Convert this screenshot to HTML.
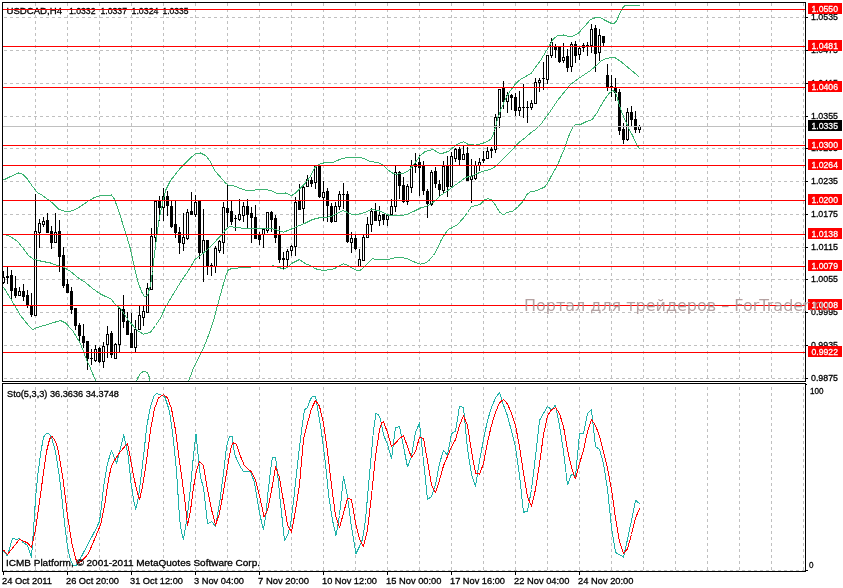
<!DOCTYPE html>
<html lang="ru"><head><meta charset="utf-8"><title>USDCAD,H4</title>
<style>html,body{margin:0;padding:0;background:#fff;overflow:hidden}svg{display:block}text{font-family:"Liberation Sans", sans-serif;font-size:9.7px;fill:#000;stroke:#000;stroke-width:.3px}.w{fill:#fff;stroke:#fff}.wm{font-family:"DejaVu Sans", "Liberation Sans", sans-serif;font-size:16px;fill:#ab9595;fill-opacity:.88;stroke:none}</style></head><body>
<svg width="843" height="588" viewBox="0 0 843 588">
<rect width="843" height="588" fill="#fff"/>
<g shape-rendering="crispEdges" stroke="#c0c0c0" stroke-width="1" stroke-dasharray="3 3" fill="none">
<line x1="4" y1="17.5" x2="805" y2="17.5"/>
<line x1="4" y1="50.5" x2="805" y2="50.5"/>
<line x1="4" y1="83.5" x2="805" y2="83.5"/>
<line x1="4" y1="116.5" x2="805" y2="116.5"/>
<line x1="4" y1="148.5" x2="805" y2="148.5"/>
<line x1="4" y1="181.5" x2="805" y2="181.5"/>
<line x1="4" y1="214.5" x2="805" y2="214.5"/>
<line x1="4" y1="247.5" x2="805" y2="247.5"/>
<line x1="4" y1="279.5" x2="805" y2="279.5"/>
<line x1="4" y1="312.5" x2="805" y2="312.5"/>
<line x1="4" y1="345.5" x2="805" y2="345.5"/>
<line x1="4" y1="378.5" x2="805" y2="378.5"/>
<line x1="35.5" y1="3" x2="35.5" y2="381"/>
<line x1="35.5" y1="387" x2="35.5" y2="571"/>
<line x1="67.5" y1="3" x2="67.5" y2="381"/>
<line x1="67.5" y1="387" x2="67.5" y2="571"/>
<line x1="99.5" y1="3" x2="99.5" y2="381"/>
<line x1="99.5" y1="387" x2="99.5" y2="571"/>
<line x1="131.5" y1="3" x2="131.5" y2="381"/>
<line x1="131.5" y1="387" x2="131.5" y2="571"/>
<line x1="163.5" y1="3" x2="163.5" y2="381"/>
<line x1="163.5" y1="387" x2="163.5" y2="571"/>
<line x1="195.5" y1="3" x2="195.5" y2="381"/>
<line x1="195.5" y1="387" x2="195.5" y2="571"/>
<line x1="227.5" y1="3" x2="227.5" y2="381"/>
<line x1="227.5" y1="387" x2="227.5" y2="571"/>
<line x1="259.5" y1="3" x2="259.5" y2="381"/>
<line x1="259.5" y1="387" x2="259.5" y2="571"/>
<line x1="291.5" y1="3" x2="291.5" y2="381"/>
<line x1="291.5" y1="387" x2="291.5" y2="571"/>
<line x1="323.5" y1="3" x2="323.5" y2="381"/>
<line x1="323.5" y1="387" x2="323.5" y2="571"/>
<line x1="355.5" y1="3" x2="355.5" y2="381"/>
<line x1="355.5" y1="387" x2="355.5" y2="571"/>
<line x1="387.5" y1="3" x2="387.5" y2="381"/>
<line x1="387.5" y1="387" x2="387.5" y2="571"/>
<line x1="419.5" y1="3" x2="419.5" y2="381"/>
<line x1="419.5" y1="387" x2="419.5" y2="571"/>
<line x1="451.5" y1="3" x2="451.5" y2="381"/>
<line x1="451.5" y1="387" x2="451.5" y2="571"/>
<line x1="483.5" y1="3" x2="483.5" y2="381"/>
<line x1="483.5" y1="387" x2="483.5" y2="571"/>
<line x1="515.5" y1="3" x2="515.5" y2="381"/>
<line x1="515.5" y1="387" x2="515.5" y2="571"/>
<line x1="547.5" y1="3" x2="547.5" y2="381"/>
<line x1="547.5" y1="387" x2="547.5" y2="571"/>
<line x1="579.5" y1="3" x2="579.5" y2="381"/>
<line x1="579.5" y1="387" x2="579.5" y2="571"/>
<line x1="611.5" y1="3" x2="611.5" y2="381"/>
<line x1="611.5" y1="387" x2="611.5" y2="571"/>
<line x1="643.5" y1="3" x2="643.5" y2="381"/>
<line x1="643.5" y1="387" x2="643.5" y2="571"/>
<line x1="675.5" y1="3" x2="675.5" y2="381"/>
<line x1="675.5" y1="387" x2="675.5" y2="571"/>
<line x1="707.5" y1="3" x2="707.5" y2="381"/>
<line x1="707.5" y1="387" x2="707.5" y2="571"/>
<line x1="739.5" y1="3" x2="739.5" y2="381"/>
<line x1="739.5" y1="387" x2="739.5" y2="571"/>
<line x1="771.5" y1="3" x2="771.5" y2="381"/>
<line x1="771.5" y1="387" x2="771.5" y2="571"/>
<line x1="803.5" y1="3" x2="803.5" y2="381"/>
<line x1="803.5" y1="387" x2="803.5" y2="571"/>
<line x1="4" y1="570.5" x2="805" y2="570.5"/>
</g>
<text x="6.5" y="14" textLength="55.5" lengthAdjust="spacingAndGlyphs">USDCAD,H4</text>
<text x="69" y="14" textLength="26.5" lengthAdjust="spacingAndGlyphs">1.0332</text>
<text x="100.5" y="14" textLength="26.5" lengthAdjust="spacingAndGlyphs">1.0337</text>
<text x="131.5" y="14" textLength="27" lengthAdjust="spacingAndGlyphs">1.0324</text>
<text x="162.5" y="14" textLength="26" lengthAdjust="spacingAndGlyphs">1.0335</text>
<g shape-rendering="crispEdges">
<rect x="3" y="271" width="1" height="13" fill="#000"/>
<rect x="2" y="277" width="3" height="6" fill="#000"/>
<rect x="3" y="278" width="1" height="4" fill="#fff"/>
<rect x="7" y="267" width="1" height="17" fill="#000"/>
<rect x="6" y="276" width="3" height="2" fill="#000"/>
<rect x="11" y="270" width="1" height="29" fill="#000"/>
<rect x="10" y="275" width="3" height="16" fill="#000"/>
<rect x="15" y="276" width="1" height="22" fill="#000"/>
<rect x="14" y="288" width="3" height="8" fill="#000"/>
<rect x="19" y="287" width="1" height="9" fill="#000"/>
<rect x="18" y="291" width="3" height="5" fill="#000"/>
<rect x="19" y="292" width="1" height="3" fill="#fff"/>
<rect x="23" y="284" width="1" height="17" fill="#000"/>
<rect x="22" y="291" width="3" height="6" fill="#000"/>
<rect x="27" y="290" width="1" height="18" fill="#000"/>
<rect x="26" y="295" width="3" height="11" fill="#000"/>
<rect x="31" y="293" width="1" height="24" fill="#000"/>
<rect x="30" y="305" width="3" height="10" fill="#000"/>
<rect x="35" y="194" width="1" height="122" fill="#000"/>
<rect x="34" y="231" width="3" height="85" fill="#000"/>
<rect x="35" y="232" width="1" height="83" fill="#fff"/>
<rect x="39" y="219" width="1" height="29" fill="#000"/>
<rect x="38" y="223" width="3" height="10" fill="#000"/>
<rect x="39" y="224" width="1" height="8" fill="#fff"/>
<rect x="43" y="217" width="1" height="10" fill="#000"/>
<rect x="42" y="221" width="3" height="4" fill="#000"/>
<rect x="43" y="222" width="1" height="2" fill="#fff"/>
<rect x="47" y="213" width="1" height="20" fill="#000"/>
<rect x="46" y="220" width="3" height="13" fill="#000"/>
<rect x="51" y="226" width="1" height="23" fill="#000"/>
<rect x="50" y="231" width="3" height="12" fill="#000"/>
<rect x="55" y="213" width="1" height="30" fill="#000"/>
<rect x="54" y="232" width="3" height="11" fill="#000"/>
<rect x="55" y="233" width="1" height="9" fill="#fff"/>
<rect x="59" y="220" width="1" height="52" fill="#000"/>
<rect x="58" y="231" width="3" height="26" fill="#000"/>
<rect x="63" y="247" width="1" height="41" fill="#000"/>
<rect x="62" y="255" width="3" height="31" fill="#000"/>
<rect x="67" y="279" width="1" height="14" fill="#000"/>
<rect x="66" y="284" width="3" height="9" fill="#000"/>
<rect x="71" y="287" width="1" height="27" fill="#000"/>
<rect x="70" y="291" width="3" height="19" fill="#000"/>
<rect x="75" y="308" width="1" height="22" fill="#000"/>
<rect x="74" y="308" width="3" height="18" fill="#000"/>
<rect x="79" y="323" width="1" height="20" fill="#000"/>
<rect x="78" y="325" width="3" height="11" fill="#000"/>
<rect x="83" y="324" width="1" height="24" fill="#000"/>
<rect x="82" y="336" width="3" height="7" fill="#000"/>
<rect x="87" y="341" width="1" height="29" fill="#000"/>
<rect x="86" y="341" width="3" height="18" fill="#000"/>
<rect x="91" y="349" width="1" height="16" fill="#000"/>
<rect x="90" y="358" width="3" height="1" fill="#000"/>
<rect x="95" y="345" width="1" height="17" fill="#000"/>
<rect x="94" y="349" width="3" height="12" fill="#000"/>
<rect x="95" y="350" width="1" height="10" fill="#fff"/>
<rect x="99" y="347" width="1" height="16" fill="#000"/>
<rect x="98" y="348" width="3" height="14" fill="#000"/>
<rect x="103" y="342" width="1" height="26" fill="#000"/>
<rect x="102" y="346" width="3" height="16" fill="#000"/>
<rect x="103" y="347" width="1" height="14" fill="#fff"/>
<rect x="107" y="326" width="1" height="32" fill="#000"/>
<rect x="106" y="334" width="3" height="11" fill="#000"/>
<rect x="107" y="335" width="1" height="9" fill="#fff"/>
<rect x="111" y="331" width="1" height="27" fill="#000"/>
<rect x="110" y="333" width="3" height="22" fill="#000"/>
<rect x="115" y="343" width="1" height="16" fill="#000"/>
<rect x="114" y="344" width="3" height="15" fill="#000"/>
<rect x="115" y="345" width="1" height="13" fill="#fff"/>
<rect x="119" y="308" width="1" height="45" fill="#000"/>
<rect x="118" y="308" width="3" height="37" fill="#000"/>
<rect x="119" y="309" width="1" height="35" fill="#fff"/>
<rect x="123" y="295" width="1" height="33" fill="#000"/>
<rect x="122" y="309" width="3" height="13" fill="#000"/>
<rect x="127" y="312" width="1" height="23" fill="#000"/>
<rect x="126" y="321" width="3" height="14" fill="#000"/>
<rect x="131" y="313" width="1" height="35" fill="#000"/>
<rect x="130" y="333" width="3" height="15" fill="#000"/>
<rect x="135" y="320" width="1" height="33" fill="#000"/>
<rect x="134" y="329" width="3" height="19" fill="#000"/>
<rect x="135" y="330" width="1" height="17" fill="#fff"/>
<rect x="139" y="306" width="1" height="24" fill="#000"/>
<rect x="138" y="315" width="3" height="15" fill="#000"/>
<rect x="139" y="316" width="1" height="13" fill="#fff"/>
<rect x="143" y="306" width="1" height="20" fill="#000"/>
<rect x="142" y="311" width="3" height="7" fill="#000"/>
<rect x="143" y="312" width="1" height="5" fill="#fff"/>
<rect x="147" y="283" width="1" height="30" fill="#000"/>
<rect x="146" y="288" width="3" height="25" fill="#000"/>
<rect x="147" y="289" width="1" height="23" fill="#fff"/>
<rect x="151" y="228" width="1" height="62" fill="#000"/>
<rect x="150" y="236" width="3" height="54" fill="#000"/>
<rect x="151" y="237" width="1" height="52" fill="#fff"/>
<rect x="155" y="201" width="1" height="42" fill="#000"/>
<rect x="154" y="201" width="3" height="37" fill="#000"/>
<rect x="155" y="202" width="1" height="35" fill="#fff"/>
<rect x="159" y="196" width="1" height="25" fill="#000"/>
<rect x="158" y="201" width="3" height="7" fill="#000"/>
<rect x="163" y="188" width="1" height="33" fill="#000"/>
<rect x="162" y="196" width="3" height="12" fill="#000"/>
<rect x="163" y="197" width="1" height="10" fill="#fff"/>
<rect x="167" y="191" width="1" height="25" fill="#000"/>
<rect x="166" y="196" width="3" height="10" fill="#000"/>
<rect x="171" y="201" width="1" height="27" fill="#000"/>
<rect x="170" y="206" width="3" height="21" fill="#000"/>
<rect x="175" y="201" width="1" height="37" fill="#000"/>
<rect x="174" y="224" width="3" height="9" fill="#000"/>
<rect x="179" y="227" width="1" height="27" fill="#000"/>
<rect x="178" y="232" width="3" height="11" fill="#000"/>
<rect x="183" y="213" width="1" height="38" fill="#000"/>
<rect x="182" y="237" width="3" height="7" fill="#000"/>
<rect x="183" y="238" width="1" height="5" fill="#fff"/>
<rect x="187" y="209" width="1" height="31" fill="#000"/>
<rect x="186" y="212" width="3" height="27" fill="#000"/>
<rect x="187" y="213" width="1" height="25" fill="#fff"/>
<rect x="191" y="192" width="1" height="23" fill="#000"/>
<rect x="190" y="211" width="3" height="4" fill="#000"/>
<rect x="195" y="195" width="1" height="22" fill="#000"/>
<rect x="194" y="202" width="3" height="13" fill="#000"/>
<rect x="195" y="203" width="1" height="11" fill="#fff"/>
<rect x="199" y="201" width="1" height="58" fill="#000"/>
<rect x="198" y="201" width="3" height="52" fill="#000"/>
<rect x="203" y="209" width="1" height="73" fill="#000"/>
<rect x="202" y="240" width="3" height="13" fill="#000"/>
<rect x="203" y="241" width="1" height="11" fill="#fff"/>
<rect x="207" y="240" width="1" height="35" fill="#000"/>
<rect x="206" y="240" width="3" height="27" fill="#000"/>
<rect x="211" y="263" width="1" height="13" fill="#000"/>
<rect x="210" y="265" width="3" height="2" fill="#000"/>
<rect x="215" y="246" width="1" height="27" fill="#000"/>
<rect x="214" y="248" width="3" height="19" fill="#000"/>
<rect x="215" y="249" width="1" height="17" fill="#fff"/>
<rect x="219" y="240" width="1" height="13" fill="#000"/>
<rect x="218" y="241" width="3" height="10" fill="#000"/>
<rect x="219" y="242" width="1" height="8" fill="#fff"/>
<rect x="223" y="202" width="1" height="52" fill="#000"/>
<rect x="222" y="207" width="3" height="36" fill="#000"/>
<rect x="223" y="208" width="1" height="34" fill="#fff"/>
<rect x="227" y="185" width="1" height="42" fill="#000"/>
<rect x="226" y="208" width="3" height="5" fill="#000"/>
<rect x="231" y="200" width="1" height="25" fill="#000"/>
<rect x="230" y="211" width="3" height="11" fill="#000"/>
<rect x="235" y="215" width="1" height="16" fill="#000"/>
<rect x="234" y="218" width="3" height="1" fill="#000"/>
<rect x="239" y="199" width="1" height="22" fill="#000"/>
<rect x="238" y="214" width="3" height="6" fill="#000"/>
<rect x="239" y="215" width="1" height="4" fill="#fff"/>
<rect x="243" y="202" width="1" height="20" fill="#000"/>
<rect x="242" y="206" width="3" height="10" fill="#000"/>
<rect x="243" y="207" width="1" height="8" fill="#fff"/>
<rect x="247" y="199" width="1" height="29" fill="#000"/>
<rect x="246" y="206" width="3" height="9" fill="#000"/>
<rect x="251" y="207" width="1" height="36" fill="#000"/>
<rect x="250" y="213" width="3" height="5" fill="#000"/>
<rect x="255" y="205" width="1" height="34" fill="#000"/>
<rect x="254" y="217" width="3" height="22" fill="#000"/>
<rect x="259" y="232" width="1" height="13" fill="#000"/>
<rect x="258" y="234" width="3" height="6" fill="#000"/>
<rect x="263" y="228" width="1" height="20" fill="#000"/>
<rect x="262" y="229" width="3" height="6" fill="#000"/>
<rect x="263" y="230" width="1" height="4" fill="#fff"/>
<rect x="267" y="212" width="1" height="21" fill="#000"/>
<rect x="266" y="212" width="3" height="19" fill="#000"/>
<rect x="267" y="213" width="1" height="17" fill="#fff"/>
<rect x="271" y="211" width="1" height="21" fill="#000"/>
<rect x="270" y="212" width="3" height="8" fill="#000"/>
<rect x="275" y="215" width="1" height="28" fill="#000"/>
<rect x="274" y="218" width="3" height="20" fill="#000"/>
<rect x="279" y="226" width="1" height="37" fill="#000"/>
<rect x="278" y="234" width="3" height="26" fill="#000"/>
<rect x="283" y="252" width="1" height="18" fill="#000"/>
<rect x="282" y="258" width="3" height="2" fill="#000"/>
<rect x="287" y="249" width="1" height="19" fill="#000"/>
<rect x="286" y="251" width="3" height="9" fill="#000"/>
<rect x="287" y="252" width="1" height="7" fill="#fff"/>
<rect x="291" y="245" width="1" height="11" fill="#000"/>
<rect x="290" y="246" width="3" height="5" fill="#000"/>
<rect x="291" y="247" width="1" height="3" fill="#fff"/>
<rect x="295" y="197" width="1" height="59" fill="#000"/>
<rect x="294" y="202" width="3" height="45" fill="#000"/>
<rect x="295" y="203" width="1" height="43" fill="#fff"/>
<rect x="299" y="184" width="1" height="26" fill="#000"/>
<rect x="298" y="201" width="3" height="9" fill="#000"/>
<rect x="303" y="184" width="1" height="39" fill="#000"/>
<rect x="302" y="187" width="3" height="22" fill="#000"/>
<rect x="303" y="188" width="1" height="20" fill="#fff"/>
<rect x="307" y="175" width="1" height="12" fill="#000"/>
<rect x="306" y="179" width="3" height="8" fill="#000"/>
<rect x="307" y="180" width="1" height="6" fill="#fff"/>
<rect x="311" y="177" width="1" height="10" fill="#000"/>
<rect x="310" y="180" width="3" height="4" fill="#000"/>
<rect x="315" y="166" width="1" height="23" fill="#000"/>
<rect x="314" y="166" width="3" height="17" fill="#000"/>
<rect x="315" y="167" width="1" height="15" fill="#fff"/>
<rect x="319" y="165" width="1" height="33" fill="#000"/>
<rect x="318" y="165" width="3" height="32" fill="#000"/>
<rect x="323" y="181" width="1" height="40" fill="#000"/>
<rect x="322" y="192" width="3" height="6" fill="#000"/>
<rect x="323" y="193" width="1" height="4" fill="#fff"/>
<rect x="327" y="188" width="1" height="34" fill="#000"/>
<rect x="326" y="191" width="3" height="15" fill="#000"/>
<rect x="331" y="203" width="1" height="20" fill="#000"/>
<rect x="330" y="206" width="3" height="16" fill="#000"/>
<rect x="335" y="202" width="1" height="20" fill="#000"/>
<rect x="334" y="206" width="3" height="16" fill="#000"/>
<rect x="335" y="207" width="1" height="14" fill="#fff"/>
<rect x="339" y="191" width="1" height="19" fill="#000"/>
<rect x="338" y="194" width="3" height="13" fill="#000"/>
<rect x="339" y="195" width="1" height="11" fill="#fff"/>
<rect x="343" y="183" width="1" height="26" fill="#000"/>
<rect x="342" y="194" width="3" height="1" fill="#000"/>
<rect x="347" y="191" width="1" height="52" fill="#000"/>
<rect x="346" y="194" width="3" height="48" fill="#000"/>
<rect x="351" y="232" width="1" height="21" fill="#000"/>
<rect x="350" y="238" width="3" height="5" fill="#000"/>
<rect x="351" y="239" width="1" height="3" fill="#fff"/>
<rect x="355" y="235" width="1" height="15" fill="#000"/>
<rect x="354" y="238" width="3" height="11" fill="#000"/>
<rect x="359" y="249" width="1" height="18" fill="#000"/>
<rect x="358" y="259" width="3" height="8" fill="#000"/>
<rect x="359" y="260" width="1" height="6" fill="#fff"/>
<rect x="363" y="235" width="1" height="26" fill="#000"/>
<rect x="362" y="237" width="3" height="24" fill="#000"/>
<rect x="363" y="238" width="1" height="22" fill="#fff"/>
<rect x="367" y="217" width="1" height="21" fill="#000"/>
<rect x="366" y="224" width="3" height="14" fill="#000"/>
<rect x="367" y="225" width="1" height="12" fill="#fff"/>
<rect x="371" y="208" width="1" height="24" fill="#000"/>
<rect x="370" y="211" width="3" height="14" fill="#000"/>
<rect x="371" y="212" width="1" height="12" fill="#fff"/>
<rect x="375" y="203" width="1" height="18" fill="#000"/>
<rect x="374" y="211" width="3" height="10" fill="#000"/>
<rect x="379" y="206" width="1" height="20" fill="#000"/>
<rect x="378" y="215" width="3" height="6" fill="#000"/>
<rect x="379" y="216" width="1" height="4" fill="#fff"/>
<rect x="383" y="214" width="1" height="11" fill="#000"/>
<rect x="382" y="214" width="3" height="6" fill="#000"/>
<rect x="387" y="214" width="1" height="12" fill="#000"/>
<rect x="386" y="215" width="3" height="5" fill="#000"/>
<rect x="387" y="216" width="1" height="3" fill="#fff"/>
<rect x="391" y="199" width="1" height="16" fill="#000"/>
<rect x="390" y="206" width="3" height="9" fill="#000"/>
<rect x="391" y="207" width="1" height="7" fill="#fff"/>
<rect x="395" y="166" width="1" height="46" fill="#000"/>
<rect x="394" y="172" width="3" height="35" fill="#000"/>
<rect x="395" y="173" width="1" height="33" fill="#fff"/>
<rect x="399" y="171" width="1" height="28" fill="#000"/>
<rect x="398" y="172" width="3" height="14" fill="#000"/>
<rect x="403" y="177" width="1" height="26" fill="#000"/>
<rect x="402" y="185" width="3" height="17" fill="#000"/>
<rect x="407" y="184" width="1" height="21" fill="#000"/>
<rect x="406" y="186" width="3" height="16" fill="#000"/>
<rect x="407" y="187" width="1" height="14" fill="#fff"/>
<rect x="411" y="160" width="1" height="33" fill="#000"/>
<rect x="410" y="166" width="3" height="22" fill="#000"/>
<rect x="411" y="167" width="1" height="20" fill="#fff"/>
<rect x="415" y="153" width="1" height="20" fill="#000"/>
<rect x="414" y="164" width="3" height="3" fill="#000"/>
<rect x="415" y="165" width="1" height="1" fill="#fff"/>
<rect x="419" y="155" width="1" height="41" fill="#000"/>
<rect x="418" y="162" width="3" height="6" fill="#000"/>
<rect x="423" y="161" width="1" height="34" fill="#000"/>
<rect x="422" y="165" width="3" height="26" fill="#000"/>
<rect x="427" y="189" width="1" height="29" fill="#000"/>
<rect x="426" y="191" width="3" height="13" fill="#000"/>
<rect x="431" y="170" width="1" height="36" fill="#000"/>
<rect x="430" y="172" width="3" height="33" fill="#000"/>
<rect x="431" y="173" width="1" height="31" fill="#fff"/>
<rect x="435" y="167" width="1" height="21" fill="#000"/>
<rect x="434" y="171" width="3" height="13" fill="#000"/>
<rect x="439" y="180" width="1" height="17" fill="#000"/>
<rect x="438" y="184" width="3" height="6" fill="#000"/>
<rect x="443" y="161" width="1" height="32" fill="#000"/>
<rect x="442" y="166" width="3" height="25" fill="#000"/>
<rect x="443" y="167" width="1" height="23" fill="#fff"/>
<rect x="447" y="156" width="1" height="41" fill="#000"/>
<rect x="446" y="165" width="3" height="22" fill="#000"/>
<rect x="451" y="152" width="1" height="36" fill="#000"/>
<rect x="450" y="156" width="3" height="31" fill="#000"/>
<rect x="451" y="157" width="1" height="29" fill="#fff"/>
<rect x="455" y="148" width="1" height="14" fill="#000"/>
<rect x="454" y="149" width="3" height="10" fill="#000"/>
<rect x="455" y="150" width="1" height="8" fill="#fff"/>
<rect x="459" y="147" width="1" height="19" fill="#000"/>
<rect x="458" y="149" width="3" height="11" fill="#000"/>
<rect x="463" y="146" width="1" height="14" fill="#000"/>
<rect x="462" y="154" width="3" height="6" fill="#000"/>
<rect x="463" y="155" width="1" height="4" fill="#fff"/>
<rect x="467" y="147" width="1" height="34" fill="#000"/>
<rect x="466" y="153" width="3" height="28" fill="#000"/>
<rect x="471" y="159" width="1" height="44" fill="#000"/>
<rect x="470" y="176" width="3" height="4" fill="#000"/>
<rect x="471" y="177" width="1" height="2" fill="#fff"/>
<rect x="475" y="161" width="1" height="19" fill="#000"/>
<rect x="474" y="165" width="3" height="14" fill="#000"/>
<rect x="475" y="166" width="1" height="12" fill="#fff"/>
<rect x="479" y="158" width="1" height="13" fill="#000"/>
<rect x="478" y="162" width="3" height="4" fill="#000"/>
<rect x="479" y="163" width="1" height="2" fill="#fff"/>
<rect x="483" y="151" width="1" height="12" fill="#000"/>
<rect x="482" y="159" width="3" height="2" fill="#000"/>
<rect x="487" y="147" width="1" height="12" fill="#000"/>
<rect x="486" y="151" width="3" height="8" fill="#000"/>
<rect x="487" y="152" width="1" height="6" fill="#fff"/>
<rect x="491" y="147" width="1" height="11" fill="#000"/>
<rect x="490" y="149" width="3" height="2" fill="#000"/>
<rect x="495" y="114" width="1" height="39" fill="#000"/>
<rect x="494" y="117" width="3" height="33" fill="#000"/>
<rect x="495" y="118" width="1" height="31" fill="#fff"/>
<rect x="499" y="89" width="1" height="39" fill="#000"/>
<rect x="498" y="89" width="3" height="29" fill="#000"/>
<rect x="499" y="90" width="1" height="27" fill="#fff"/>
<rect x="503" y="81" width="1" height="28" fill="#000"/>
<rect x="502" y="88" width="3" height="14" fill="#000"/>
<rect x="507" y="92" width="1" height="21" fill="#000"/>
<rect x="506" y="95" width="3" height="7" fill="#000"/>
<rect x="507" y="96" width="1" height="5" fill="#fff"/>
<rect x="511" y="94" width="1" height="16" fill="#000"/>
<rect x="510" y="95" width="3" height="3" fill="#000"/>
<rect x="515" y="93" width="1" height="23" fill="#000"/>
<rect x="514" y="97" width="3" height="14" fill="#000"/>
<rect x="519" y="91" width="1" height="25" fill="#000"/>
<rect x="518" y="107" width="3" height="4" fill="#000"/>
<rect x="519" y="108" width="1" height="2" fill="#fff"/>
<rect x="523" y="84" width="1" height="34" fill="#000"/>
<rect x="522" y="107" width="3" height="1" fill="#000"/>
<rect x="527" y="101" width="1" height="22" fill="#000"/>
<rect x="526" y="107" width="3" height="1" fill="#000"/>
<rect x="531" y="100" width="1" height="10" fill="#000"/>
<rect x="530" y="103" width="3" height="5" fill="#000"/>
<rect x="531" y="104" width="1" height="3" fill="#fff"/>
<rect x="535" y="78" width="1" height="26" fill="#000"/>
<rect x="534" y="82" width="3" height="22" fill="#000"/>
<rect x="535" y="83" width="1" height="20" fill="#fff"/>
<rect x="539" y="78" width="1" height="14" fill="#000"/>
<rect x="538" y="80" width="3" height="3" fill="#000"/>
<rect x="539" y="81" width="1" height="1" fill="#fff"/>
<rect x="543" y="62" width="1" height="28" fill="#000"/>
<rect x="542" y="78" width="3" height="1" fill="#000"/>
<rect x="547" y="55" width="1" height="29" fill="#000"/>
<rect x="546" y="55" width="3" height="25" fill="#000"/>
<rect x="547" y="56" width="1" height="23" fill="#fff"/>
<rect x="551" y="38" width="1" height="20" fill="#000"/>
<rect x="550" y="42" width="3" height="14" fill="#000"/>
<rect x="551" y="43" width="1" height="12" fill="#fff"/>
<rect x="555" y="44" width="1" height="14" fill="#000"/>
<rect x="554" y="47" width="3" height="3" fill="#000"/>
<rect x="559" y="47" width="1" height="16" fill="#000"/>
<rect x="558" y="47" width="3" height="15" fill="#000"/>
<rect x="563" y="43" width="1" height="20" fill="#000"/>
<rect x="562" y="57" width="3" height="4" fill="#000"/>
<rect x="563" y="58" width="1" height="2" fill="#fff"/>
<rect x="567" y="49" width="1" height="23" fill="#000"/>
<rect x="566" y="56" width="3" height="12" fill="#000"/>
<rect x="571" y="42" width="1" height="30" fill="#000"/>
<rect x="570" y="44" width="3" height="23" fill="#000"/>
<rect x="571" y="45" width="1" height="21" fill="#fff"/>
<rect x="575" y="41" width="1" height="22" fill="#000"/>
<rect x="574" y="44" width="3" height="12" fill="#000"/>
<rect x="579" y="47" width="1" height="13" fill="#000"/>
<rect x="578" y="48" width="3" height="7" fill="#000"/>
<rect x="579" y="49" width="1" height="5" fill="#fff"/>
<rect x="583" y="43" width="1" height="9" fill="#000"/>
<rect x="582" y="45" width="3" height="3" fill="#000"/>
<rect x="587" y="42" width="1" height="14" fill="#000"/>
<rect x="586" y="45" width="3" height="1" fill="#000"/>
<rect x="591" y="24" width="1" height="29" fill="#000"/>
<rect x="590" y="29" width="3" height="17" fill="#000"/>
<rect x="591" y="30" width="1" height="15" fill="#fff"/>
<rect x="595" y="25" width="1" height="47" fill="#000"/>
<rect x="594" y="28" width="3" height="26" fill="#000"/>
<rect x="599" y="29" width="1" height="32" fill="#000"/>
<rect x="598" y="35" width="3" height="18" fill="#000"/>
<rect x="599" y="36" width="1" height="16" fill="#fff"/>
<rect x="603" y="36" width="1" height="10" fill="#000"/>
<rect x="602" y="36" width="3" height="7" fill="#000"/>
<rect x="607" y="64" width="1" height="27" fill="#000"/>
<rect x="606" y="75" width="3" height="13" fill="#000"/>
<rect x="611" y="75" width="1" height="22" fill="#000"/>
<rect x="610" y="86" width="3" height="2" fill="#000"/>
<rect x="615" y="78" width="1" height="23" fill="#000"/>
<rect x="614" y="88" width="3" height="5" fill="#000"/>
<rect x="619" y="89" width="1" height="46" fill="#000"/>
<rect x="618" y="92" width="3" height="39" fill="#000"/>
<rect x="623" y="123" width="1" height="21" fill="#000"/>
<rect x="622" y="129" width="3" height="11" fill="#000"/>
<rect x="627" y="108" width="1" height="33" fill="#000"/>
<rect x="626" y="112" width="3" height="28" fill="#000"/>
<rect x="627" y="113" width="1" height="26" fill="#fff"/>
<rect x="631" y="106" width="1" height="21" fill="#000"/>
<rect x="630" y="112" width="3" height="8" fill="#000"/>
<rect x="635" y="111" width="1" height="22" fill="#000"/>
<rect x="634" y="119" width="3" height="11" fill="#000"/>
<rect x="639" y="125" width="1" height="8" fill="#000"/>
<rect x="638" y="126" width="3" height="4" fill="#000"/>
<rect x="639" y="127" width="1" height="2" fill="#fff"/>
</g>
<defs><clipPath id="c1"><rect x="3" y="3" width="802" height="378"/></clipPath><clipPath id="c2"><rect x="3" y="384" width="802" height="187"/></clipPath></defs>
<g clip-path="url(#c1)" shape-rendering="crispEdges">
<polyline points="3.5,180.0 10.5,176.5 18.5,173.0 22.5,174.2 27.5,179.2 32.5,186.5 37.5,192.5 42.5,195.5 47.5,199.2 52.5,203.0 58.5,209.2 63.5,211.0 68.5,211.5 73.5,210.5 80.5,206.5 87.5,201.5 93.5,198.0 100.5,195.5 111.5,195.0 114.5,199.2 118.5,210.5 122.5,223.0 126.5,235.5 130.5,249.2 133.5,263.0 137.5,280.5 141.5,291.5 144.5,296.8 147.5,295.5 150.5,285.5 152.5,271.5 155.5,245.5 158.5,223.0 161.5,208.0 165.5,190.5 170.5,180.5 175.5,174.2 180.5,168.0 185.5,163.0 190.5,158.0 195.5,153.5 200.5,153.0 205.5,155.5 210.5,161.5 214.5,170.5 220.5,177.2 225.5,183.0 228.5,185.2 235.5,186.3 240.5,188.5 247.5,190.8 255.5,190.0 262.5,189.5 270.5,190.2 275.5,193.0 280.5,193.5 285.5,193.0 291.5,195.8 295.5,193.0 300.5,188.0 305.5,183.0 310.5,176.3 314.5,168.0 318.5,164.5 323.5,163.0 332.5,162.5 340.5,159.2 346.5,157.5 360.5,157.5 366.5,159.5 370.5,161.8 376.5,162.2 382.5,164.5 387.5,169.5 392.5,173.0 395.5,174.2 403.5,173.5 408.5,170.5 415.5,162.2 420.5,155.5 425.5,151.3 433.5,149.5 438.5,153.0 443.5,153.0 448.5,151.3 453.5,147.2 458.5,143.5 463.5,141.8 468.5,144.5 475.5,145.2 483.5,143.0 487.5,141.3 491.5,138.8 494.5,130.5 497.5,118.8 500.5,110.5 505.5,98.8 510.5,90.5 515.5,83.8 520.5,79.3 527.5,75.5 531.5,73.0 535.5,67.2 540.5,60.5 545.5,52.2 550.5,43.8 553.5,38.8 557.5,35.8 563.5,35.0 568.5,36.3 572.5,36.3 578.5,33.0 585.5,25.5 590.5,19.5 594.5,18.0 600.5,17.7 605.5,20.5 610.5,23.0 613.5,23.8 616.5,21.3 619.5,13.8 622.5,8.0 624.5,5.8 639.5,5.8" fill="none" stroke="#3cb371" stroke-width="1" stroke-linejoin="round"/>
<polyline points="3.5,234.0 10.5,236.5 17.5,241.5 22.5,247.5 28.5,255.5 33.5,259.2 40.5,261.0 50.5,263.0 57.5,265.5 63.5,267.2 70.5,271.5 78.5,278.0 85.5,282.5 92.5,288.5 100.5,294.0 105.5,296.5 110.5,298.5 115.5,304.5 120.5,308.5 128.5,320.5 137.2,330.5 143.5,334.2 150.5,332.2 155.5,325.5 160.5,318.0 165.5,307.2 172.5,295.5 180.5,282.2 188.5,270.5 195.5,258.8 200.5,255.5 205.5,251.3 215.5,241.3 222.5,233.8 226.5,228.8 229.5,226.8 235.5,227.2 243.5,228.3 255.5,228.8 262.5,228.3 268.5,228.0 275.5,229.5 283.5,232.2 290.5,229.5 297.5,226.3 305.5,223.0 312.5,219.5 320.5,217.5 330.5,216.8 336.5,213.8 342.5,210.8 345.5,211.3 349.5,213.8 355.5,214.5 360.5,213.8 365.5,212.2 371.5,209.5 378.5,210.5 385.5,213.8 390.5,215.8 400.5,215.8 408.5,213.8 415.5,210.5 420.5,208.0 428.5,205.5 433.5,202.2 440.5,195.5 447.5,190.8 453.5,186.3 460.5,181.3 465.5,177.5 472.5,175.8 478.5,173.0 485.5,170.5 490.5,169.5 495.5,166.3 500.5,161.3 507.5,154.5 515.5,146.2 520.5,141.2 525.5,137.5 530.5,133.0 535.5,129.5 540.5,124.8 545.5,117.8 550.5,111.0 557.5,100.5 565.5,90.5 570.5,84.5 577.5,79.2 585.5,73.8 590.5,70.5 595.5,66.3 600.5,61.3 605.5,58.8 610.5,57.7 615.5,58.0 620.5,61.3 625.5,65.5 630.5,69.5 635.5,73.8 639.5,77.2" fill="none" stroke="#3cb371" stroke-width="1" stroke-linejoin="round"/>
<polyline points="3.5,287.2 10.5,298.5 20.5,315.5 28.5,325.5 32.5,329.5 38.5,327.2 50.5,323.5 60.5,320.5 65.5,323.0 72.5,330.5 80.5,343.5 85.5,357.2 90.5,368.5 96.0,381.5" fill="none" stroke="#3cb371" stroke-width="1" stroke-linejoin="round"/>
<polyline points="136.5,381.5 138.0,377.5 140.0,374.0 142.5,372.0 145.5,371.5 147.5,373.0 149.0,376.5 150.0,381.5" fill="none" stroke="#3cb371" stroke-width="1" stroke-linejoin="round"/>
<polyline points="188.5,381.5 193.8,367.2 198.8,357.2 203.8,347.2 207.2,338.8 210.5,329.5 213.5,320.5 217.5,305.5 222.5,287.2 226.5,273.8 228.5,269.5 232.5,268.5 240.5,267.8 248.5,267.1 260.5,266.7 273.5,265.9 280.5,268.0 283.5,269.2 287.5,267.2 292.5,263.0 299.5,259.5 305.5,263.8 310.5,265.5 315.5,268.8 323.5,270.5 331.5,269.5 335.5,268.0 343.5,263.8 346.5,264.5 350.5,267.5 357.5,270.5 360.5,270.2 365.5,265.5 372.5,258.8 378.5,259.5 388.5,259.5 395.5,257.5 405.5,258.1 410.5,260.2 415.5,262.5 420.5,264.1 424.5,263.5 428.5,260.9 433.5,255.5 437.5,248.0 441.5,239.5 445.5,233.0 448.5,229.4 452.5,227.5 457.5,224.5 462.5,219.1 467.5,212.5 471.5,206.5 475.5,205.8 480.5,204.1 484.5,199.8 488.5,198.7 491.5,199.8 495.5,205.1 499.5,212.2 503.5,214.8 507.5,212.2 512.5,211.5 517.5,207.3 522.5,201.9 527.5,193.8 530.5,191.9 535.5,191.0 540.5,188.9 544.5,187.2 547.5,183.4 550.5,177.5 553.5,171.9 557.5,165.5 560.5,157.5 564.5,149.1 567.5,139.1 570.5,131.9 573.5,126.2 575.5,124.8 580.5,124.5 585.5,122.0 590.5,120.2 592.5,119.4 595.5,114.8 597.5,112.2 601.5,104.5 605.5,98.0 609.5,93.0 612.5,90.5 615.5,92.2 617.5,98.8 620.5,108.8 624.5,118.8 628.5,128.0 632.5,135.5 636.5,143.8 639.5,149.0" fill="none" stroke="#3cb371" stroke-width="1" stroke-linejoin="round"/>
</g>
<g shape-rendering="crispEdges">
<rect x="3" y="126" width="804" height="1" fill="#c0c0c0"/>
<rect x="3" y="9" width="802" height="1" fill="#f00"/>
<rect x="3" y="46" width="802" height="1" fill="#f00"/>
<rect x="3" y="87" width="802" height="1" fill="#f00"/>
<rect x="3" y="145" width="802" height="1" fill="#f00"/>
<rect x="3" y="165" width="802" height="1" fill="#f00"/>
<rect x="3" y="200" width="802" height="1" fill="#f00"/>
<rect x="3" y="234" width="802" height="1" fill="#f00"/>
<rect x="3" y="266" width="802" height="1" fill="#f00"/>
<rect x="3" y="305" width="802" height="1" fill="#f00"/>
<rect x="3" y="352" width="802" height="1" fill="#f00"/>
<rect x="2" y="2" width="804" height="1" fill="#000"/>
<rect x="2" y="381" width="804" height="1" fill="#000"/>
<rect x="2" y="2" width="1" height="380" fill="#000"/>
<rect x="805" y="2" width="1" height="380" fill="#000"/>
<rect x="2" y="383" width="804" height="1" fill="#000"/>
<rect x="2" y="571" width="804" height="1" fill="#000"/>
<rect x="2" y="383" width="1" height="189" fill="#000"/>
<rect x="805" y="383" width="1" height="189" fill="#000"/>
<rect x="806" y="17" width="2" height="1" fill="#000"/>
<rect x="806" y="50" width="2" height="1" fill="#000"/>
<rect x="806" y="83" width="2" height="1" fill="#000"/>
<rect x="806" y="116" width="2" height="1" fill="#000"/>
<rect x="806" y="148" width="2" height="1" fill="#000"/>
<rect x="806" y="181" width="2" height="1" fill="#000"/>
<rect x="806" y="214" width="2" height="1" fill="#000"/>
<rect x="806" y="247" width="2" height="1" fill="#000"/>
<rect x="806" y="279" width="2" height="1" fill="#000"/>
<rect x="806" y="312" width="2" height="1" fill="#000"/>
<rect x="806" y="345" width="2" height="1" fill="#000"/>
<rect x="806" y="378" width="2" height="1" fill="#000"/>
<rect x="806" y="384" width="1" height="1" fill="#000"/>
<rect x="806" y="570" width="2" height="1" fill="#000"/>
<rect x="3" y="572" width="1" height="3" fill="#000"/>
<rect x="67" y="572" width="1" height="3" fill="#000"/>
<rect x="131" y="572" width="1" height="3" fill="#000"/>
<rect x="195" y="572" width="1" height="3" fill="#000"/>
<rect x="259" y="572" width="1" height="3" fill="#000"/>
<rect x="323" y="572" width="1" height="3" fill="#000"/>
<rect x="387" y="572" width="1" height="3" fill="#000"/>
<rect x="451" y="572" width="1" height="3" fill="#000"/>
<rect x="515" y="572" width="1" height="3" fill="#000"/>
<rect x="579" y="572" width="1" height="3" fill="#000"/>
</g>
<text x="811" y="20" textLength="27" lengthAdjust="spacingAndGlyphs">1.0535</text>
<text x="811" y="53" textLength="27" lengthAdjust="spacingAndGlyphs">1.0475</text>
<text x="811" y="86" textLength="27" lengthAdjust="spacingAndGlyphs">1.0415</text>
<text x="811" y="119" textLength="27" lengthAdjust="spacingAndGlyphs">1.0355</text>
<text x="811" y="151" textLength="27" lengthAdjust="spacingAndGlyphs">1.0295</text>
<text x="811" y="184" textLength="27" lengthAdjust="spacingAndGlyphs">1.0235</text>
<text x="811" y="217" textLength="27" lengthAdjust="spacingAndGlyphs">1.0175</text>
<text x="811" y="250" textLength="27" lengthAdjust="spacingAndGlyphs">1.0115</text>
<text x="811" y="282" textLength="27" lengthAdjust="spacingAndGlyphs">1.0055</text>
<text x="811" y="315" textLength="27" lengthAdjust="spacingAndGlyphs">0.9995</text>
<text x="811" y="348" textLength="27" lengthAdjust="spacingAndGlyphs">0.9935</text>
<text x="811" y="381" textLength="27" lengthAdjust="spacingAndGlyphs">0.9875</text>
<text x="810" y="394" textLength="13.5" lengthAdjust="spacingAndGlyphs">100</text>
<text x="809" y="568" textLength="4.5" lengthAdjust="spacingAndGlyphs">0</text>
<g shape-rendering="crispEdges">
<rect x="808" y="3" width="34" height="11" fill="#f00"/>
<rect x="808" y="40" width="34" height="11" fill="#f00"/>
<rect x="808" y="81" width="34" height="11" fill="#f00"/>
<rect x="808" y="139" width="34" height="11" fill="#f00"/>
<rect x="808" y="159" width="34" height="11" fill="#f00"/>
<rect x="808" y="194" width="34" height="11" fill="#f00"/>
<rect x="808" y="228" width="34" height="11" fill="#f00"/>
<rect x="808" y="260" width="34" height="11" fill="#f00"/>
<rect x="808" y="299" width="34" height="11" fill="#f00"/>
<rect x="808" y="346" width="34" height="11" fill="#f00"/>
<rect x="808" y="120" width="34" height="11" fill="#000"/>
</g>
<text x="811.5" y="12" textLength="26.5" lengthAdjust="spacingAndGlyphs" class="w">1.0550</text>
<text x="811.5" y="49" textLength="26.5" lengthAdjust="spacingAndGlyphs" class="w">1.0481</text>
<text x="811.5" y="90" textLength="26.5" lengthAdjust="spacingAndGlyphs" class="w">1.0406</text>
<text x="811.5" y="148" textLength="26.5" lengthAdjust="spacingAndGlyphs" class="w">1.0300</text>
<text x="811.5" y="168" textLength="26.5" lengthAdjust="spacingAndGlyphs" class="w">1.0264</text>
<text x="811.5" y="203" textLength="26.5" lengthAdjust="spacingAndGlyphs" class="w">1.0200</text>
<text x="811.5" y="237" textLength="26.5" lengthAdjust="spacingAndGlyphs" class="w">1.0138</text>
<text x="811.5" y="269" textLength="26.5" lengthAdjust="spacingAndGlyphs" class="w">1.0079</text>
<text x="811.5" y="308" textLength="26.5" lengthAdjust="spacingAndGlyphs" class="w">1.0008</text>
<text x="811.5" y="355" textLength="26.5" lengthAdjust="spacingAndGlyphs" class="w">0.9922</text>
<text x="811.5" y="129" textLength="26.5" lengthAdjust="spacingAndGlyphs" class="w">1.0335</text>
<g clip-path="url(#c2)" shape-rendering="crispEdges">
<polyline points="3.5,551.2 7.5,555.9 12.5,538.1 16.5,539.8 19.5,538.1 23.5,542.9 27.5,545.2 31.5,557.1 33.5,529.8 35.5,499.0 37.5,477.5 40.5,453.9 43.5,437.3 46.5,433.2 48.5,433.2 51.5,437.3 55.5,451.5 59.5,477.5 61.5,494.2 64.5,522.7 67.5,546.5 70.5,560.5 73.5,565.5 76.5,565.5 80.5,558.3 85.5,548.8 90.5,539.3 95.5,529.8 99.5,521.5 101.5,506.1 103.5,487.3 107.5,463.5 111.5,450.4 116.5,463.5 123.8,434.9 127.9,453.9 131.0,482.5 133.8,501.5 135.8,509.5 138.5,496.5 141.0,477.5 143.5,456.3 146.9,425.4 150.5,406.3 154.1,395.5 156.5,393.7 160.0,394.5 164.8,396.8 169.5,411.1 173.1,437.3 176.5,470.5 179.5,518.0 181.5,532.2 183.5,539.3 186.5,521.5 188.5,506.3 191.0,482.5 193.4,456.3 196.0,433.7 198.5,458.7 200.5,477.7 203.5,487.3 207.5,523.9 211.5,521.5 215.5,526.3 219.5,503.5 223.5,473.0 226.5,446.8 229.5,436.1 232.0,436.1 234.5,453.9 238.5,463.5 243.5,471.8 250.5,471.8 254.5,482.5 259.5,513.2 263.5,529.8 266.5,510.5 267.5,496.8 270.5,470.5 272.5,457.0 275.5,457.0 277.5,473.0 280.5,503.5 284.5,540.5 287.5,535.5 290.5,525.1 293.5,501.5 296.5,473.0 299.5,446.8 302.5,423.0 304.5,409.9 307.5,407.5 310.5,399.2 312.5,396.1 315.5,396.1 318.5,413.5 321.5,432.5 325.5,463.5 328.5,494.2 332.5,520.3 336.0,535.5 339.5,515.5 343.5,476.5 347.5,496.5 351.5,527.5 356.0,553.5 359.5,546.5 362.5,539.3 365.5,520.3 367.5,496.8 370.5,463.5 373.5,430.1 376.0,413.5 378.5,414.5 380.5,419.5 383.5,434.9 387.5,444.5 391.5,458.7 395.5,427.7 399.5,426.5 403.5,446.8 407.5,467.0 411.5,456.3 415.5,432.5 419.5,423.0 423.5,461.1 427.5,499.2 431.5,496.8 435.5,484.9 439.5,463.5 443.5,450.4 447.5,455.1 451.5,433.7 455.5,431.3 459.5,406.3 463.5,407.5 467.5,449.2 471.5,474.2 475.5,486.1 479.5,461.1 483.5,439.5 487.5,420.5 491.5,407.5 495.5,398.0 499.5,392.7 503.5,405.1 507.5,415.8 511.5,431.3 515.5,446.8 519.5,475.4 523.5,512.3 527.5,511.1 531.5,489.5 535.5,456.3 539.5,420.5 543.5,413.5 547.5,406.3 551.5,409.9 555.5,405.1 559.5,425.4 563.5,451.5 567.5,484.9 571.5,474.2 575.5,476.5 579.5,433.7 583.5,433.7 587.5,413.5 591.5,409.9 595.5,446.8 599.5,449.2 603.5,463.5 607.5,489.5 611.5,527.5 615.5,552.4 619.5,554.7 623.5,557.1 627.5,539.3 631.5,520.3 635.5,500.2 639.5,503.7" fill="none" stroke="#20b2aa" stroke-width="1" stroke-linejoin="round"/>
<polyline points="3.5,550.0 7.5,554.5 19.5,539.3 27.5,542.9 31.5,547.5 35.5,529.8 39.5,501.3 43.5,473.0 46.5,451.5 49.5,439.5 51.5,436.1 54.5,439.5 57.5,446.8 60.5,463.5 63.5,482.5 67.5,515.5 71.5,541.5 75.5,558.3 77.5,563.0 80.5,561.8 84.5,558.3 88.5,553.5 92.5,544.0 96.5,534.5 100.5,525.1 104.5,506.1 108.5,479.5 111.5,465.8 115.5,458.7 120.5,451.5 127.5,443.2 130.5,458.7 133.5,475.4 136.5,489.5 139.5,499.7 142.5,486.5 146.5,461.1 150.5,430.1 154.5,408.7 158.5,398.0 163.5,394.5 167.5,398.0 171.5,408.7 175.5,430.1 178.5,453.9 182.5,482.5 185.5,506.1 187.5,525.1 190.5,510.5 193.5,487.5 196.5,470.5 199.5,461.1 203.5,465.8 207.5,489.5 211.5,509.5 215.5,525.1 219.5,513.2 223.5,491.5 226.5,472.5 228.5,461.1 231.5,445.5 233.5,442.7 236.5,444.5 240.5,456.3 244.5,465.8 248.5,469.5 251.5,471.8 255.5,480.1 259.5,495.5 264.0,516.5 267.5,510.5 271.5,490.5 275.5,467.0 279.5,477.7 283.5,501.3 287.5,525.1 291.5,532.2 295.5,510.5 299.5,484.5 303.5,439.5 307.5,423.0 311.5,408.7 315.5,400.4 319.5,406.3 323.5,423.0 327.5,451.5 331.5,485.5 335.5,515.5 339.5,527.5 343.5,513.2 347.5,498.1 351.5,499.7 355.5,522.7 359.5,539.3 363.5,546.5 367.5,529.8 371.5,495.5 375.5,456.3 379.5,430.1 381.5,423.0 383.5,421.8 387.5,432.5 391.5,446.3 395.5,443.2 399.5,438.5 403.5,435.4 407.5,446.8 411.5,457.5 415.5,451.5 419.5,437.3 423.5,438.5 427.5,461.1 431.5,484.9 435.5,492.5 439.5,480.1 443.5,465.8 447.5,456.3 451.5,446.8 455.5,439.5 459.5,425.4 463.5,415.8 467.5,425.4 471.5,451.5 475.5,473.0 479.5,474.2 483.5,463.5 487.5,442.0 491.5,425.4 495.5,412.3 499.5,402.7 503.5,399.5 507.5,403.9 511.5,413.5 515.5,425.4 519.5,446.8 523.5,473.0 527.5,496.8 531.5,506.3 535.5,489.5 539.5,463.5 543.5,434.9 547.5,415.8 551.5,409.9 555.5,407.5 559.5,413.5 563.5,426.5 567.5,450.0 571.5,467.5 575.5,478.9 579.5,463.5 583.5,450.4 587.5,431.3 591.5,419.4 595.5,425.4 599.5,436.1 603.5,451.5 607.5,468.2 611.5,489.5 615.5,518.0 619.5,541.5 623.5,553.5 627.5,548.8 631.5,534.5 635.5,518.0 639.5,508.5" fill="none" stroke="#f00" stroke-width="1" stroke-linejoin="round"/>
</g>
<text x="7" y="397" textLength="112" lengthAdjust="spacingAndGlyphs">Sto(5,3,3) 36.3636 34.3748</text>
<text x="6" y="566" textLength="254" lengthAdjust="spacingAndGlyphs">ICMB Platform, © 2001-2011 MetaQuotes Software Corp.</text>
<text x="2" y="584" textLength="50" lengthAdjust="spacingAndGlyphs">24 Oct 2011</text>
<text x="66" y="584" textLength="53" lengthAdjust="spacingAndGlyphs">26 Oct 20:00</text>
<text x="130" y="584" textLength="53" lengthAdjust="spacingAndGlyphs">31 Oct 12:00</text>
<text x="194" y="584" textLength="50" lengthAdjust="spacingAndGlyphs">3 Nov 04:00</text>
<text x="258" y="584" textLength="51" lengthAdjust="spacingAndGlyphs">7 Nov 20:00</text>
<text x="322" y="584" textLength="55" lengthAdjust="spacingAndGlyphs">10 Nov 12:00</text>
<text x="386" y="584" textLength="55.5" lengthAdjust="spacingAndGlyphs">15 Nov 00:00</text>
<text x="450" y="584" textLength="55" lengthAdjust="spacingAndGlyphs">17 Nov 16:00</text>
<text x="514" y="584" textLength="55.5" lengthAdjust="spacingAndGlyphs">22 Nov 04:00</text>
<text x="578" y="584" textLength="55.5" lengthAdjust="spacingAndGlyphs">24 Nov 20:00</text>
<text class="wm" x="524" y="310.5" textLength="306" lengthAdjust="spacingAndGlyphs">Портал для трейдеров – ForTrader.ru</text>
</svg></body></html>
